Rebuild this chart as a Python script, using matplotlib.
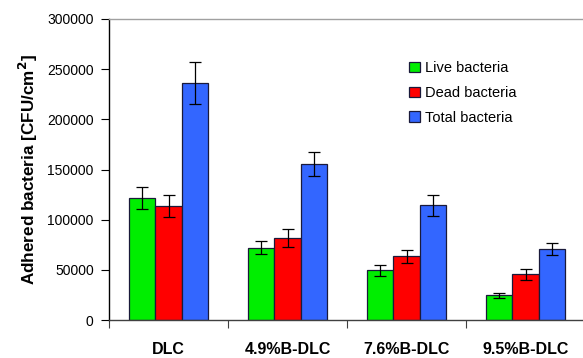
import matplotlib
matplotlib.use("Agg")
import matplotlib.pyplot as plt
import numpy as np

categories = ["DLC", "4.9%B-DLC", "7.6%B-DLC", "9.5%B-DLC"]
series_names = ["Live bacteria", "Dead bacteria", "Total bacteria"]
live = [122000, 72000, 49500, 24500]
live_err = [11000, 6500, 5300, 2500]
dead = [114000, 82000, 63500, 45500]
dead_err = [11000, 9000, 6700, 5300]
total = [236000, 155500, 114500, 70500]
total_err = [21000, 11500, 10500, 6000]
yticks = [0, 50000, 100000, 150000, 200000, 250000, 300000]

colors = ["#00EE00", "#FF0000", "#3366FF"]

plt.rcParams['font.family'] = ['Liberation Sans', 'DejaVu Sans']

fig = plt.figure(figsize=(5.83, 3.58), dpi=100)
ax = fig.add_axes([109/583, 38/358, 476/583, 301/358])

x = np.arange(len(categories))
w = 0.223
vals = [live, dead, total]
errs = [live_err, dead_err, total_err]
for i, (v, e, c, n) in enumerate(zip(vals, errs, colors, series_names)):
    ax.bar(x + (i - 1) * w, v, width=w, color=c, edgecolor="#1a1a3a", linewidth=0.9,
           yerr=e, capsize=4, error_kw=dict(ecolor="black", elinewidth=0.9, capthick=0.9),
           label=n, zorder=2)

ax.set_xlim(-0.5, 3.5)
ax.set_ylim(0, 300000)
ax.set_yticks(yticks)
ax.set_yticklabels([str(t) for t in yticks], fontsize=10)
ax.set_xticks(np.arange(-0.5, 4.0, 1.0))
ax.set_xticklabels([])
ax.set_xticks(x, minor=True)
ax.set_xticklabels(categories, minor=True, fontsize=11.5, fontweight="bold")
ax.tick_params(axis="x", which="minor", length=0, pad=16)
ax.tick_params(axis="x", which="major", length=6, direction="out", color="#404040")
ax.tick_params(axis="y", length=6, direction="out", pad=5)

ax.spines["left"].set_color("black")
ax.spines["bottom"].set_color("#404040")
ax.spines["top"].set_color("#a0a0a0")
ax.spines["right"].set_visible(False)
for s in ax.spines.values():
    s.set_linewidth(1.0)

ax.set_ylabel("Adhered bacteria [CFU/cm$^\\mathbf{2}$]", fontsize=12.3, fontweight="bold", labelpad=5)

leg = ax.legend(loc="upper left", bbox_to_anchor=(409/583, 1 - 61/358),
                bbox_transform=fig.transFigure, frameon=False, fontsize=10.5,
                handlelength=0.75, handleheight=0.75, handletextpad=0.35,
                labelspacing=0.75, borderpad=0, borderaxespad=0)

fig.savefig("out.png", dpi=100)
